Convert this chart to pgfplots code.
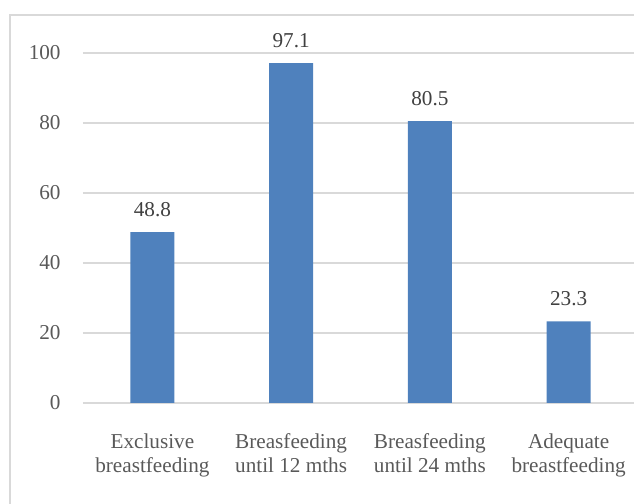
\documentclass[border=0pt]{standalone}
\usepackage{pgfplots}
\pgfplotsset{compat=1.18}
\usepackage{fontspec}
\setmainfont{Liberation Serif}
\definecolor{barblue}{HTML}{4F81BD}
\definecolor{gridgray}{HTML}{D9D9D9}
\definecolor{ticktext}{HTML}{595959}
\definecolor{valtext}{HTML}{404040}
\newcommand{\chartfont}{\fontsize{10.6}{12}\selectfont}

\begin{document}
\begin{tikzpicture}
\useasboundingbox (0,0) rectangle (317pt,252pt);
\clip (0,0) rectangle (317pt,252pt);
% chart frame, cut off at right and bottom like the reference
\draw[gridgray, line width=0.75pt] (5pt,-10pt) rectangle (330pt,244.5pt);
\begin{axis}[
    at={(41.5pt,50.5pt)}, anchor=south west,
    scale only axis,
    width=277.5pt, height=175pt,
    ybar, bar width=22pt,
    xmin=-0.5, xmax=3.5,
    ymin=0, ymax=100,
    xtick=data,
    xticklabels={{Exclusive\\breastfeeding},{Breasfeeding\\until 12 mths},{Breasfeeding\\until 24 mths},{Adequate\\breastfeeding}},
    ytick={0,20,40,60,80,100},
    axis line style={draw=none},
    tick style={draw=none},
    ymajorgrids,
    grid style={gridgray, line width=0.75pt},
    /pgf/number format/assume math mode=true,
    /pgf/number format/.cd, fixed, precision=1, fixed zerofill, /pgfplots/.cd,
    yticklabel style={font=\chartfont, text=ticktext, anchor=east, inner sep=0pt, xshift=-11pt,
        /pgf/number format/precision=0},
    xticklabel style={font=\chartfont, text=ticktext, align=center, anchor=north, inner sep=0pt, yshift=-11pt},
    nodes near coords,
    every node near coord/.append style={font=\chartfont, text=valtext, anchor=base, inner sep=0pt, yshift=8pt},
    clip=false,
]
\addplot[fill=barblue, draw=none] coordinates {(0,48.8) (1,97.1) (2,80.5) (3,23.3)};
\end{axis}
\end{tikzpicture}
\end{document}
